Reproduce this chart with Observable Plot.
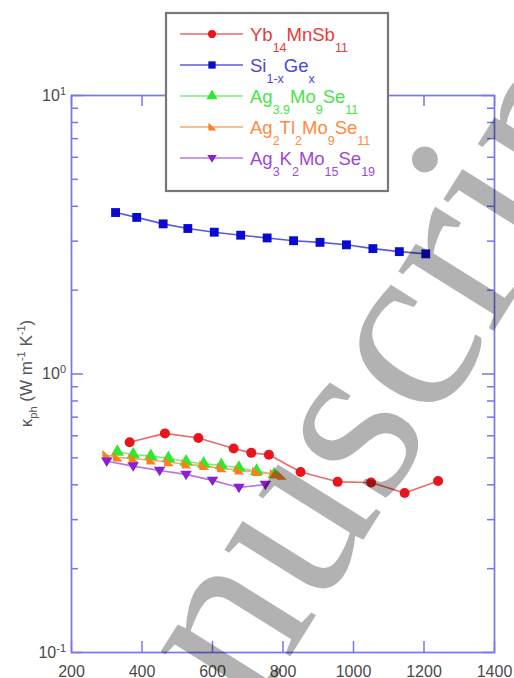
<!DOCTYPE html>
<html><head><meta charset="utf-8">
<script src="https://cdn.jsdelivr.net/npm/d3@7"></script>
<script src="https://cdn.jsdelivr.net/npm/@observablehq/plot@0.6"></script>
<style>
body{margin:0;background:#fff;}
#chart{position:relative;width:514px;height:678px;overflow:hidden;}
</style>
</head><body><div id="chart"></div>
<script>
// ---- data ----
const xTicks = [200, 400, 600, 800, 1000, 1200, 1400];
const yMajor = [0.1, 1, 10];
const yExp = ["-1", "0", "1"];
const yMinor = [0.2,0.3,0.4,0.5,0.6,0.7,0.8,0.9,2,3,4,5,6,7,8,9];

const ybT = [365, 465, 560, 660, 710, 760, 850, 955, 1050, 1145, 1240];
const ybK = [0.569, 0.612, 0.589, 0.540, 0.521, 0.513, 0.445, 0.410, 0.408, 0.374, 0.413];
const siT = [325, 385, 460, 530, 605, 680, 755, 830, 905, 980, 1055, 1130, 1205];
const siK = [3.80, 3.65, 3.46, 3.33, 3.23, 3.15, 3.08, 3.01, 2.97, 2.91, 2.82, 2.75, 2.70];
const agMoT = [330, 375, 425, 475, 525, 575, 625, 675, 725, 775];
const agMoK = [0.525, 0.514, 0.507, 0.498, 0.484, 0.476, 0.470, 0.460, 0.448, 0.436];
const agTlT = [300, 330, 375, 425, 475, 525, 575, 625, 675, 725, 775, 795];
const agTlK = [0.511, 0.502, 0.497, 0.490, 0.483, 0.474, 0.468, 0.459, 0.451, 0.445, 0.437, 0.432];
const agKT = [300, 375, 450, 525, 600, 675, 750];
const agKK = [0.486, 0.467, 0.450, 0.436, 0.415, 0.391, 0.401];

const seriesNames = ["Yb14MnSb11", "Si1-xGex", "Ag3.9Mo9Se11", "Ag2Tl2Mo9Se11", "Ag3K2Mo15Se19"];
const legendParts = [
  [["Yb",0],["14",1],["MnSb",0],["11",1]],
  [["Si",0],["1-x",1],["Ge",0],["x",1]],
  [["Ag",0],["3.9",1],["Mo",0],["9",1],["Se",0],["11",1]],
  [["Ag",0],["2",1],["Tl",0],["2",1],["Mo",0],["9",1],["Se",0],["11",1]],
  [["Ag",0],["3",1],["K",0],["2",1],["Mo",0],["15",1],["Se",0],["19",1]]
];
const seriesT = [ybT, siT, agMoT, agTlT, agKT];
const seriesK = [ybK, siK, agMoK, agTlK, agKK];
const markerColors = ["#e8161c", "#0a0ad0", "#30e830", "#ff7f1e", "#8a1fd6"];
const lineColors = ["#ea6a6a", "#5a5ae0", "#78ec78", "#ffa566", "#b476e6"];
const textColors = ["#e83a3a", "#4848dc", "#48e448", "#ff8a40", "#9a48dc"];

// ---- symbols ----
const triDown = {draw(ctx, size){ const r = Math.sqrt(size/Math.PI)*1.15;
  ctx.moveTo(-r, -r*0.65); ctx.lineTo(r, -r*0.65); ctx.lineTo(0, r); ctx.closePath(); }};
const triRight = {draw(ctx, size){ const r = Math.sqrt(size/Math.PI)*1.1;
  ctx.moveTo(-r*0.8, -r); ctx.lineTo(r, r*0.75); ctx.lineTo(-r*0.8, r*0.75); ctx.closePath(); }};
const symbols = ["circle", "square", "triangle", triRight, triDown];
const d3Symbols = [d3.symbolCircle, d3.symbolSquare, d3.symbolTriangle, triRight, triDown];

const rows = [];
seriesNames.forEach((s, i) => seriesT[i].forEach((t, j) => rows.push({s, i, t, k: seriesK[i][j]})));

const W = 514, H = 678, mL = 71, mR = 20, mT = 95, mB = 26;
const fw = W - mL - mR, fh = H - mT - mB;
const frameColor = "#7676ee";

const marks = [
  Plot.frame({stroke: frameColor, strokeWidth: 1.7}),
  Plot.tickX(xTicks, {x: d => d, stroke: frameColor, strokeWidth: 1.5, insetTop: fh - 11}),
  Plot.tickX(xTicks, {x: d => d, stroke: frameColor, strokeWidth: 1.5, insetBottom: fh - 11}),
  Plot.tickY(yMajor, {y: d => d, stroke: frameColor, strokeWidth: 1.5, insetRight: fw - 12}),
  Plot.tickY(yMajor, {y: d => d, stroke: frameColor, strokeWidth: 1.5, insetLeft: fw - 12}),
  Plot.tickY(yMinor, {y: d => d, stroke: frameColor, strokeWidth: 1.5, insetRight: fw - 7}),
  Plot.tickY(yMinor, {y: d => d, stroke: frameColor, strokeWidth: 1.5, insetLeft: fw - 7}),
  Plot.text(xTicks, {x: d => d, text: d => String(d), frameAnchor: "bottom", dy: 24, fontSize: 16, fill: "#4a4a4a"})
];
seriesNames.forEach((s, i) => {
  const data = rows.filter(r => r.i === i);
  marks.push(Plot.line(data, {x: "t", y: "k", stroke: lineColors[i], strokeWidth: 1.6}));
});
seriesNames.forEach((s, i) => {
  const data = rows.filter(r => r.i === i);
  marks.push(Plot.dot(data, {x: "t", y: "k", symbol: () => symbols[i], r: 5, fill: markerColors[i], stroke: "none"}));
});

const plot = Plot.plot({
  width: W, height: H,
  marginLeft: mL, marginRight: mR, marginTop: mT, marginBottom: mB,
  style: {fontFamily: "'Liberation Sans', Arial, sans-serif", background: "#fff", overflow: "visible"},
  x: {domain: [200, 1400], axis: null},
  y: {type: "log", domain: [0.1, 10], axis: null},
  symbol: {type: "identity"},
  marks
});
document.getElementById("chart").appendChild(plot);

const svg = d3.select(plot);
const ys = plot.scale("y");
const font = "'Liberation Sans', Arial, sans-serif";

// y tick labels
yMajor.forEach((v, i) => {
  const t = svg.append("text").attr("x", mL - 5).attr("y", ys.apply(v)).attr("dy", "0.35em")
    .attr("text-anchor", "end").attr("fill", "#4a4a4a").attr("font-size", 16).attr("font-family", font);
  t.append("tspan").text("10");
  t.append("tspan").attr("dy", "-0.55em").attr("font-size", 11).text(yExp[i]);
});

// y axis title
{
  const t = svg.append("text").attr("transform", `translate(32,${ys.apply(1)}) rotate(-90)`)
    .attr("text-anchor", "middle").attr("fill", "#555").attr("font-size", 17).attr("font-family", font);
  t.append("tspan").text("κ");
  t.append("tspan").attr("dy", 5).attr("font-size", 11).text("ph");
  t.append("tspan").attr("dy", -5).text(" (W m");
  t.append("tspan").attr("dy", -7).attr("font-size", 11).text("-1");
  t.append("tspan").attr("dy", 7).text(" K");
  t.append("tspan").attr("dy", -7).attr("font-size", 11).text("-1");
  t.append("tspan").attr("dy", 7).text(")");
}

// legend
{
  const g = svg.append("g");
  g.append("rect").attr("x", 166).attr("y", 13).attr("width", 222).attr("height", 178)
    .attr("fill", "#fff").attr("stroke", "#777").attr("stroke-width", 2.2);
  legendParts.forEach((parts, i) => {
    const cy = 34 + i * 31;
    g.append("line").attr("x1", 180).attr("x2", 243).attr("y1", cy).attr("y2", cy)
      .attr("stroke", lineColors[i]).attr("stroke-width", 1.4);
    g.append("path").attr("d", d3.symbol(d3Symbols[i], Math.PI * 17)()).attr("transform", `translate(212,${cy})`).attr("fill", markerColors[i]);
    const t = g.append("text").attr("x", 250).attr("y", cy + 7).attr("fill", textColors[i])
      .attr("text-anchor", "start").attr("font-size", 18.5).attr("font-family", font);
    let sub = false;
    parts.forEach(([s, isSub]) => {
      const sp = t.append("tspan").text(s);
      if (isSub) { sp.attr("font-size", 12.5); if (!sub) { sp.attr("dy", 11); sub = true; } }
      else if (sub) { sp.attr("dy", -11); sub = false; }
    });
  });
}

// watermark
svg.append("text").attr("transform", "translate(80,993) rotate(-58)").attr("text-anchor", "start")
  .attr("font-family", "'Liberation Serif', 'Times New Roman', serif").attr("font-size", 245)
  .attr("fill", "#000").attr("fill-opacity", 0.3).text("Manuscript");
</script>
</body></html>
